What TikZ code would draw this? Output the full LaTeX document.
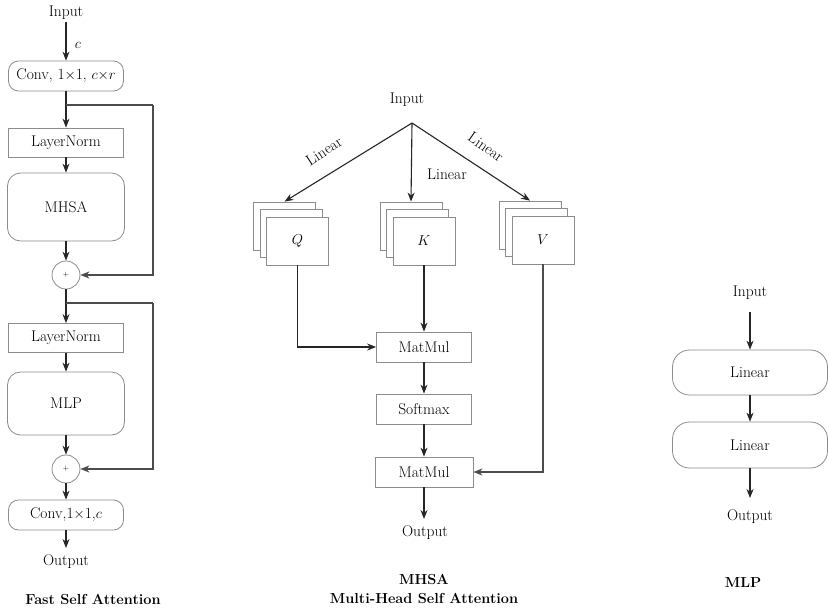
\documentclass[tikz,border=0pt]{standalone}
\usepackage{fontspec}
\usetikzlibrary{arrows.meta,calc}
\begin{document}
\begin{tikzpicture}[x=1pt,y=-1pt,
  every node/.style={font=\fontsize{15.5}{18}\selectfont, inner sep=2pt},
  boxline/.style={draw=black!45, line width=0.8pt},
  rbox/.style={boxline, rounded corners=10pt, minimum width=115pt, minimum height=30pt},
  sbox/.style={boxline, rectangle, minimum width=115pt, minimum height=29pt},
  bigrbox/.style={boxline, rounded corners=13pt, minimum width=117pt},
  mbox/.style={boxline, rectangle, minimum width=95pt, minimum height=30pt},
  stackbox/.style={boxline, fill=white, rectangle, minimum width=62pt, minimum height=48pt},
  pluscirc/.style={boxline, circle, minimum size=28pt, inner sep=0pt, font=\fontsize{7}{8}\selectfont},
  mlpbox/.style={boxline, rounded corners=17pt, minimum width=155pt, minimum height=45pt},
  arr/.style={draw=black!85, line width=1.1pt, -{Stealth[length=9pt,width=7pt]}},
  loopline/.style={draw=black!70, line width=1.3pt},
  looparr/.style={loopline, -{Stealth[length=9pt,width=7pt]}},
  title/.style={font=\fontsize{14.5}{17}\selectfont\bfseries}
]
\useasboundingbox (0,0) rectangle (829,613);

% ---------------- Left: Fast Self Attention ----------------
\node (in1) at (66,13) {Input};
\node[rbox] (conv1) at (66,76) {Conv, 1$\times$1, $c{\times}r$};
\node (clab) at (78,45) {$c$};
\node[sbox] (ln1) at (66,142.5) {LayerNorm};
\node[bigrbox, minimum height=68pt] (mhsa1) at (66,207) {MHSA};
\node[pluscirc] (plus1) at (66,275) {+};
\node[sbox] (ln2) at (66,338) {LayerNorm};
\node[bigrbox, minimum height=63pt] (mlp1) at (66,403.5) {MLP};
\node[pluscirc] (plus2) at (66,469) {+};
\node[rbox] (conv2) at (66,515) {Conv,1$\times$1,$c$};
\node (out1) at (66,562) {Output};
\node[title] (t1) at (93,600) {Fast Self Attention};

\coordinate (br1) at (66,105);
\coordinate (c1) at (153,105);
\coordinate (br2) at (66,303);
\coordinate (c2) at (153,303);
\coordinate (e1) at (66,548);

\draw[arr] (in1) -- (conv1);
\draw[arr] (conv1) -- (ln1);
\draw[arr] (ln1) -- (mhsa1);
\draw[arr] (mhsa1) -- (plus1);
\draw[arr] (plus1) -- (ln2);
\draw[arr] (ln2) -- (mlp1);
\draw[arr] (mlp1) -- (plus2);
\draw[arr] (plus2) -- (conv2);
\draw[arr] (conv2) -- (e1);
\draw[loopline] (br1) -- (c1);
\draw[looparr] (c1) |- (plus1.east);
\draw[loopline] (br2) -- (c2);
\draw[looparr] (c2) |- (plus2.east);

% ---------------- Center: MHSA ----------------
\node (in2) at (407,100) {Input};
\coordinate (apex) at (412,123);

\node[stackbox] (Q3) at (284.5,226) {};
\node[stackbox] (Q2) at (291,233.5) {};
\node[stackbox] (Q) at (297.5,241) {$Q$};
\node[stackbox] (K3) at (411,226) {};
\node[stackbox] (K2) at (417.5,233.5) {};
\node[stackbox] (K) at (424,241) {$K$};
\node[stackbox] (V3) at (530,225) {};
\node[stackbox] (V2) at (536.5,232.5) {};
\node[stackbox] (V) at (543,240) {$V$};

\draw[arr] (apex) -- (Q3.north);
\draw[arr] (apex) -- (K3.north);
\draw[arr] (apex) -- (V3.north);

\node[rotate=33] (lq) at (324,151) {Linear};
\node (lk) at (447,174) {Linear};
\node[rotate=-35] (lv) at (486,147) {Linear};

\node[mbox] (mm1) at (424,347) {MatMul};
\node[mbox] (sm) at (424,409) {Softmax};
\node[mbox, minimum width=98pt] (mm2) at (424,472) {MatMul};
\node (out2) at (425,533) {Output};
\coordinate (e2) at (424,519);

\draw[arr] (Q.south) |- (mm1.west);
\draw[arr] (K.south) -- (mm1.north);
\draw[arr] (mm1) -- (sm);
\draw[arr] (sm) -- (mm2);
\draw[looparr] (V.south) |- (mm2.east);
\draw[arr] (mm2) -- (e2);

\node[title] (t2a) at (424,580) {MHSA};
\node[title] (t2b) at (424,599) {Multi-Head Self Attention};

% ---------------- Right: MLP ----------------
\node (in3) at (750,293) {Input};
\node[mlpbox] (lin1) at (750,372.5) {Linear};
\node[mlpbox, minimum height=46pt] (lin2) at (750,445) {Linear};
\node (out3) at (750,517) {Output};
\coordinate (e3) at (750,498);
\coordinate (s3) at (750,312);

\draw[arr] (s3) -- (lin1);
\draw[arr] (lin1) -- (lin2);
\draw[arr] (lin2) -- (e3);

\node[title] (t3) at (743,583) {MLP};
\end{tikzpicture}
\end{document}
